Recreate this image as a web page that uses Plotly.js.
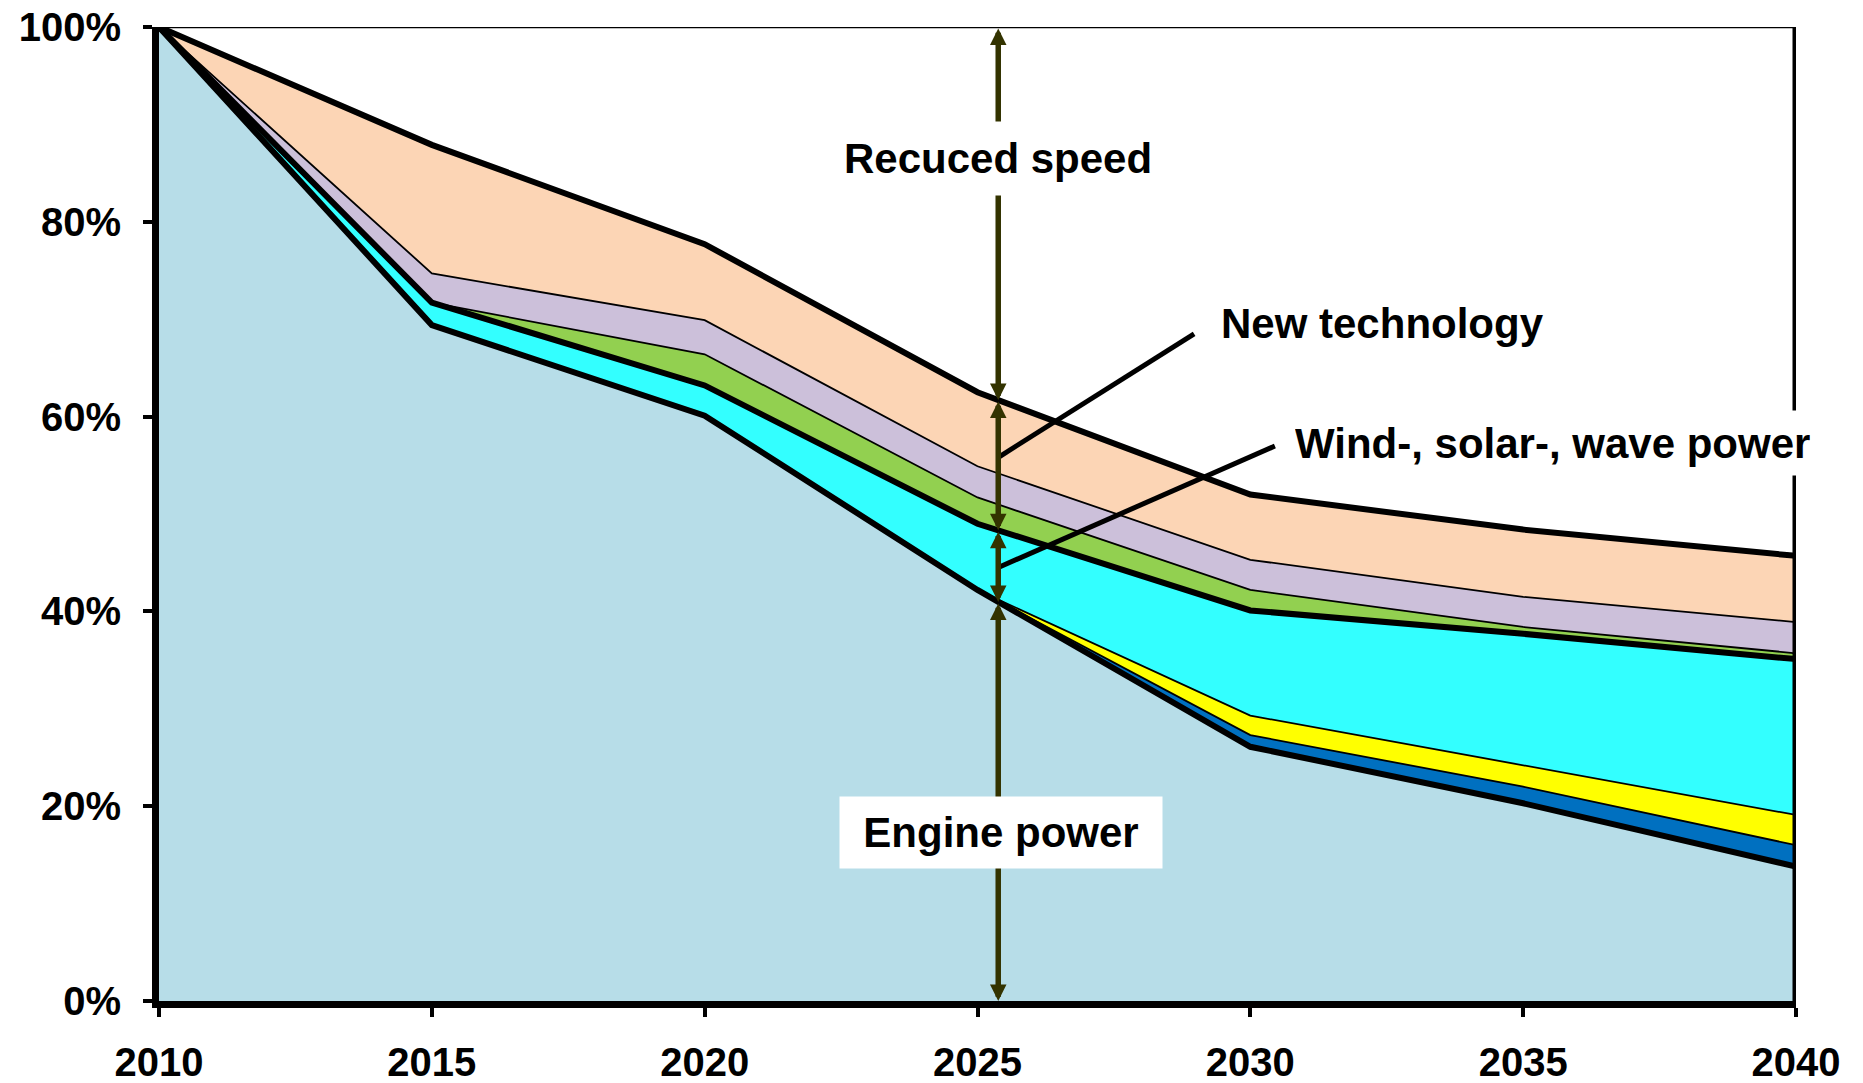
<!DOCTYPE html>
<html>
<head>
<meta charset="utf-8">
<script src="https://cdn.plot.ly/plotly-3.0.1.min.js"></script>
<style>
  html, body { margin: 0; padding: 0; background: #ffffff; }
  #chart { width: 1863px; height: 1083px; }
</style>
</head>
<body>
<div id="chart"></div>
<script>
// ---- data (percent shares, stacked bottom -> top) ----
const years      = [2010, 2015, 2020, 2025, 2030, 2035, 2040];
const engine     = [100, 69.4, 60.1, 42.2, 26.1, 20.3, 13.8];
const darkBlue   = [0, 0, 0, 0, 1.2, 1.7, 2.2];
const yellow     = [0, 0, 0, 0, 2.0, 2.2, 3.1];
const cyan       = [0, 2.3, 3.1, 6.8, 10.8, 13.5, 16.0];
const green      = [0, 0, 3.2, 2.7, 2.1, 0.7, 0.6];
const lavender   = [0, 3.0, 3.5, 3.2, 3.1, 3.1, 3.2];
const peach      = [0, 13.2, 7.8, 7.6, 6.7, 6.9, 6.8];

const xTicks     = [2010, 2015, 2020, 2025, 2030, 2035, 2040];
const yTicks     = [0, 20, 40, 60, 80, 100];

const labelSpeed = 'Recuced speed';
const labelNew   = 'New technology';
const labelWind  = 'Wind-, solar-, wave power';
const labelEng   = 'Engine power';

// ---- series styling ----
const series = [
  {y: engine,   fill: '#b7dde8', w: 6},
  {y: darkBlue, fill: '#0070c0', w: 1.8},
  {y: yellow,   fill: '#ffff00', w: 1.8},
  {y: cyan,     fill: '#33ffff', w: 6},
  {y: green,    fill: '#92d050', w: 1.8},
  {y: lavender, fill: '#ccc0da', w: 1.8},
  {y: peach,    fill: '#fcd5b5', w: 6}
];

function cum(k) { // top boundary of layer k
  return years.map((_, j) => series.slice(0, k + 1).reduce((a, s) => a + s.y[j], 0));
}

const fillTraces = series.map(s => ({
  type: 'scatter', mode: 'lines', x: years, y: s.y,
  stackgroup: 'one', fillcolor: s.fill,
  line: {color: s.fill, width: 0},
  hoverinfo: 'skip', showlegend: false
}));

const order = series.map((s, k) => k).sort((a, b) => series[a].w - series[b].w);
const lineTraces = order.map(k => ({
  type: 'scatter', mode: 'lines', x: years, y: cum(k),
  line: {color: '#000000', width: series[k].w},
  hoverinfo: 'skip', showlegend: false
}));

function interp(arr, x) {
  for (let j = 0; j < years.length - 1; j++) {
    if (x >= years[j] && x <= years[j + 1]) {
      const t = (x - years[j]) / (years[j + 1] - years[j]);
      return arr[j] + t * (arr[j + 1] - arr[j]);
    }
  }
  return arr[arr.length - 1];
}
const ax = 2025.38;
const levels = [100, interp(cum(6), ax), interp(cum(3), ax), interp(cum(0), ax), 0];

const arrowCol = '#333300';
const annotations = [];
for (let i = 0; i < levels.length - 1; i++) {
  annotations.push({
    x: ax, y: levels[i + 1], xref: 'x', yref: 'y',
    ax: ax, ay: levels[i], axref: 'x', ayref: 'y',
    text: '', showarrow: true,
    arrowhead: 2, startarrowhead: 2, arrowside: 'end+start',
    arrowsize: 0.6, startarrowsize: 0.6, arrowwidth: 5.5,
    arrowcolor: arrowCol, standoff: 0, startstandoff: 0
  });
}
const tf = {family: 'Liberation Sans, Arial, sans-serif', size: 42, color: '#000000', weight: 'bold'};
annotations.push(
  {x: ax, y: 86.55, xref: 'x', yref: 'y', text: labelSpeed, showarrow: false,
   font: tf, bgcolor: '#ffffff', height: 73, borderpad: 0, xanchor: 'center', yanchor: 'middle'},
  {x: 2025.43, y: 17.3, xref: 'x', yref: 'y', text: labelEng, showarrow: false,
   font: tf, bgcolor: '#ffffff', width: 322, height: 71, borderpad: 0, xanchor: 'center', yanchor: 'middle'},
  {x: 2029.45, y: 69.6, xref: 'x', yref: 'y', text: labelNew, showarrow: false,
   font: tf, bgcolor: '#ffffff', borderpad: 0, xanchor: 'left', yanchor: 'middle'},
  {x: 2030.8, y: 57.3, xref: 'x', yref: 'y', text: labelWind, showarrow: false,
   font: tf, bgcolor: '#ffffff', height: 64, borderpad: 0, xanchor: 'left', yanchor: 'middle'}
);

const shapes = [
  {type: 'line', xref: 'x', yref: 'y', x0: 2010, x1: 2040, y0: 100, y1: 100,
   line: {color: '#000000', width: 2.5}, layer: 'above'},
  {type: 'line', xref: 'x', yref: 'y', x0: 2040, x1: 2040, y0: 0, y1: 100,
   line: {color: '#000000', width: 7}, layer: 'above'},
  {type: 'line', xref: 'x', yref: 'y', x0: 2025.39, y0: 55.85, x1: 2028.97, y1: 68.5,
   line: {color: '#000000', width: 5}, layer: 'above'},
  {type: 'line', xref: 'x', yref: 'y', x0: 2025.36, y0: 44.46, x1: 2030.45, y1: 56.98,
   line: {color: '#000000', width: 5}, layer: 'above'}
];

const tickFont = {family: 'Liberation Sans, Arial, sans-serif', size: 40, color: '#000000', weight: 'bold'};

const layout = {
  width: 1863, height: 1083,
  margin: {l: 159, r: 67, t: 27, b: 82, pad: 0},
  paper_bgcolor: '#ffffff',
  plot_bgcolor: '#ffffff',
  showlegend: false,
  hovermode: false,
  xaxis: {
    range: [2010, 2040], tickvals: xTicks, ticktext: xTicks.map(String),
    showgrid: false, zeroline: false,
    showline: true, linecolor: '#000000', linewidth: 7,
    ticks: 'outside', ticklen: 9, tickwidth: 4, tickcolor: '#000000',
    tickfont: tickFont, ticklabelstandoff: 11, fixedrange: true
  },
  yaxis: {
    range: [0, 100], tickvals: yTicks, ticktext: yTicks.map(v => v + '%'),
    showgrid: false, zeroline: false,
    showline: true, linecolor: '#000000', linewidth: 7,
    ticks: 'outside', ticklen: 9, tickwidth: 4, tickcolor: '#000000',
    tickfont: tickFont, ticklabelstandoff: 14, fixedrange: true
  },
  shapes: shapes,
  annotations: annotations
};

Plotly.newPlot('chart', fillTraces.concat(lineTraces), layout, {displayModeBar: false, staticPlot: true});
</script>
</body>
</html>
